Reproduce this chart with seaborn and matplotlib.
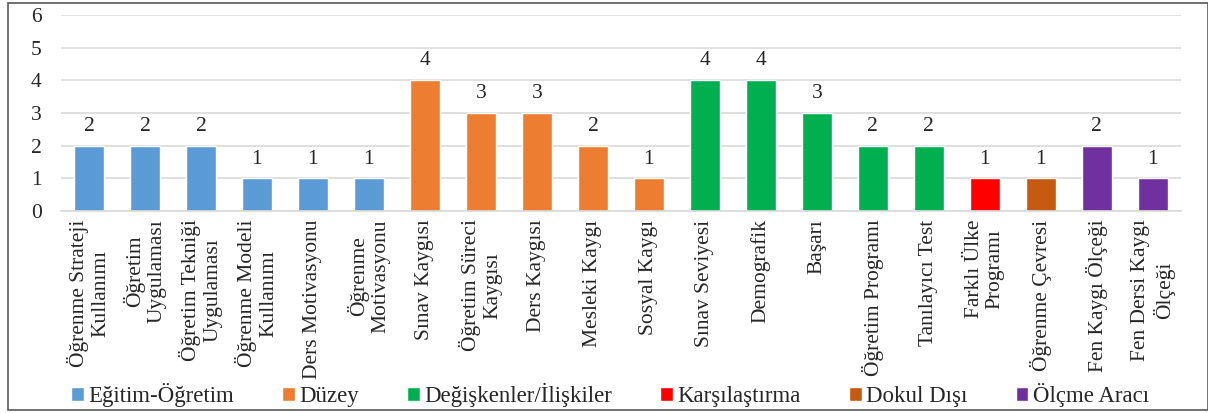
import pandas as pd
import matplotlib.pyplot as plt
import seaborn as sns
from matplotlib.patches import Patch, Rectangle

# Chart data
categories = [
    "Öğrenme Strateji\nKullanımı", "Öğretim\nUygulaması", "Öğretim Tekniği\nUygulaması",
    "Öğrenme Modeli\nKullanımı", "Ders Motivasyonu", "Öğrenme\nMotivasyonu",
    "Sınav Kaygısı", "Öğretim Süreci\nKaygısı", "Ders Kaygısı", "Mesleki Kaygı",
    "Sosyal Kaygı", "Sınav Seviyesi", "Demografik", "Başarı", "Öğretim Programı",
    "Tanılayıcı Test", "Farklı Ülke\nProgramı", "Öğrenme Çevresi", "Fen Kaygı Ölçeği",
    "Fen Dersi Kaygı\nÖlçeği",
]
counts = [2, 2, 2, 1, 1, 1, 4, 3, 3, 2, 1, 4, 4, 3, 2, 2, 1, 1, 2, 1]
groups = (["Eğitim-Öğretim"] * 6 + ["Düzey"] * 5 + ["Değişkenler/İlişkiler"] * 5
          + ["Karşılaştırma"] + ["Dokul Dışı"] + ["Ölçme Aracı"] * 2)
group_names = ["Eğitim-Öğretim", "Düzey", "Değişkenler/İlişkiler",
               "Karşılaştırma", "Dokul Dışı", "Ölçme Aracı"]
group_colors = ["#5B9BD5", "#ED7D31", "#00B050", "#FF0000", "#C55A11", "#7030A0"]

df = pd.DataFrame({"category": categories, "count": counts, "group": groups})
palette = dict(zip(group_names, group_colors))

sns.set_style("white")
plt.rcParams.update({
    "font.family": "serif",
    "font.serif": ["Liberation Serif", "DejaVu Serif"],
    "font.size": 15.5,
    "xtick.labelsize": 15.5,
    "ytick.labelsize": 15.5,
    "xtick.major.size": 0,
    "ytick.major.size": 0,
    "xtick.major.pad": 6,
    "ytick.major.pad": 14,
})

fig = plt.figure(figsize=(12.08, 4.13), dpi=100)
ax = fig.add_axes([0.0505, 0.489, 0.927, 0.475])

sns.barplot(data=df, x="category", y="count", hue="group", palette=palette,
            hue_order=group_names, dodge=False, width=0.54, saturation=1,
            legend=False, ax=ax)

ax.set_ylim(0, 6)
ax.set_xlim(-0.5, len(categories) - 0.5)
ax.set_yticks(range(0, 7))
ax.set_xticks(range(len(categories)))
ax.set_xticklabels(categories, rotation=90, ha="center", va="top",
                   multialignment="center", linespacing=1.15)
ax.set_xlabel("")
ax.set_ylabel("")
ax.yaxis.grid(True, color="#D9D9D9", linewidth=1.2)
ax.set_axisbelow(True)
sns.despine(ax=ax, left=True)
ax.spines["bottom"].set_color("#D9D9D9")
ax.spines["bottom"].set_linewidth(1.2)

# value labels above bars
for i, v in enumerate(counts):
    ax.text(i, v + 0.3, str(v), ha="center", va="bottom", fontsize=15.5)

handles = [Patch(facecolor=c, label=n) for n, c in zip(group_names, group_colors)]
fig.legend(handles=handles, loc="center", bbox_to_anchor=(0.505, 0.044), ncol=6,
           frameon=False, fontsize=16.5, handlelength=0.55, handleheight=0.55,
           handletextpad=0.2, columnspacing=2.1, borderaxespad=0)

# outer chart border
fig.add_artist(Rectangle((8 / 1208, 3 / 413), 1 - 8 / 1208, 407 / 413,
                         transform=fig.transFigure, fill=False,
                         edgecolor="#595959", linewidth=1.2))

fig.savefig("out.png", dpi=100)
